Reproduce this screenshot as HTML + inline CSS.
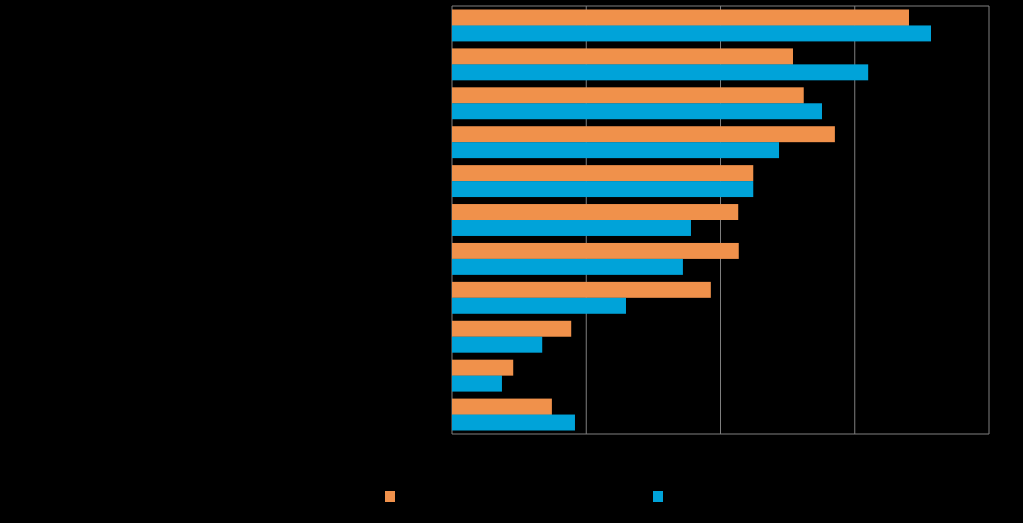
<!DOCTYPE html>
<html><head><meta charset="utf-8"><style>
html,body{margin:0;padding:0;background:#000;}
svg{display:block;font-family:"Liberation Sans",sans-serif;}
</style></head><body>
<svg id="chart" width="1023" height="523">
<rect x="0" y="0" width="1023" height="523" fill="#000"/>
<g id="grid"></g><g id="bars"></g>
<rect x="385" y="491" width="10" height="11" fill="#F0914B"/>
<rect x="653" y="491" width="10" height="11" fill="#00A3D9"/>
</svg>
<script>
const categories=["c1","c2","c3","c4","c5","c6","c7","c8","c9","c10","c11"];
const seriesA=[85.1,63.5,65.5,71.3,56.1,53.3,53.4,48.2,22.2,11.4,18.6];
const seriesB=[89.2,77.5,68.9,60.9,56.1,44.5,43.0,32.4,16.8,9.3,22.9];
const ticks=[0,25,50,75,100];
const X0=452,X1=989,Y0=6,Y1=434;
const xs=v=>X0+(v-ticks[0])/(ticks[ticks.length-1]-ticks[0])*(X1-X0);
const band=(Y1-Y0)/categories.length;
const NS="http://www.w3.org/2000/svg";
const gridG=document.getElementById('grid'),barsG=document.getElementById('bars');
ticks.forEach(t=>{
const l=document.createElementNS(NS,'line');


l.setAttribute('x1',xs(t));l.setAttribute('x2',xs(t));l.setAttribute('y1',Y0);l.setAttribute('y2',Y1);
l.setAttribute('stroke','#7f7f7f');l.setAttribute('stroke-width','1');
gridG.appendChild(l);
});
const borderTop=document.createElementNS(NS,'line');


borderTop.setAttribute('x1',X0);borderTop.setAttribute('x2',X1);borderTop.setAttribute('y1',Y0);borderTop.setAttribute('y2',Y0);
borderTop.setAttribute('stroke','#7f7f7f');gridG.appendChild(borderTop);
const borderBot=document.createElementNS(NS,'line');


borderBot.setAttribute('x1',X0);borderBot.setAttribute('x2',X1);borderBot.setAttribute('y1',Y1);borderBot.setAttribute('y2',Y1);
borderBot.setAttribute('stroke','#7f7f7f');gridG.appendChild(borderBot);
categories.forEach((c,i)=>{
const y=Y0+i*band+3.5,h=(band-7)/2;
const a=document.createElementNS(NS,'rect');


a.setAttribute('x',X0);a.setAttribute('y',y);a.setAttribute('width',xs(seriesA[i])-X0);a.setAttribute('height',h);
a.setAttribute('fill','#F0914B');barsG.appendChild(a);
const b=document.createElementNS(NS,'rect');


b.setAttribute('x',X0);b.setAttribute('y',y+h);b.setAttribute('width',xs(seriesB[i])-X0);b.setAttribute('height',h);
b.setAttribute('fill','#00A3D9');barsG.appendChild(b);
});
</script>
</body></html>
